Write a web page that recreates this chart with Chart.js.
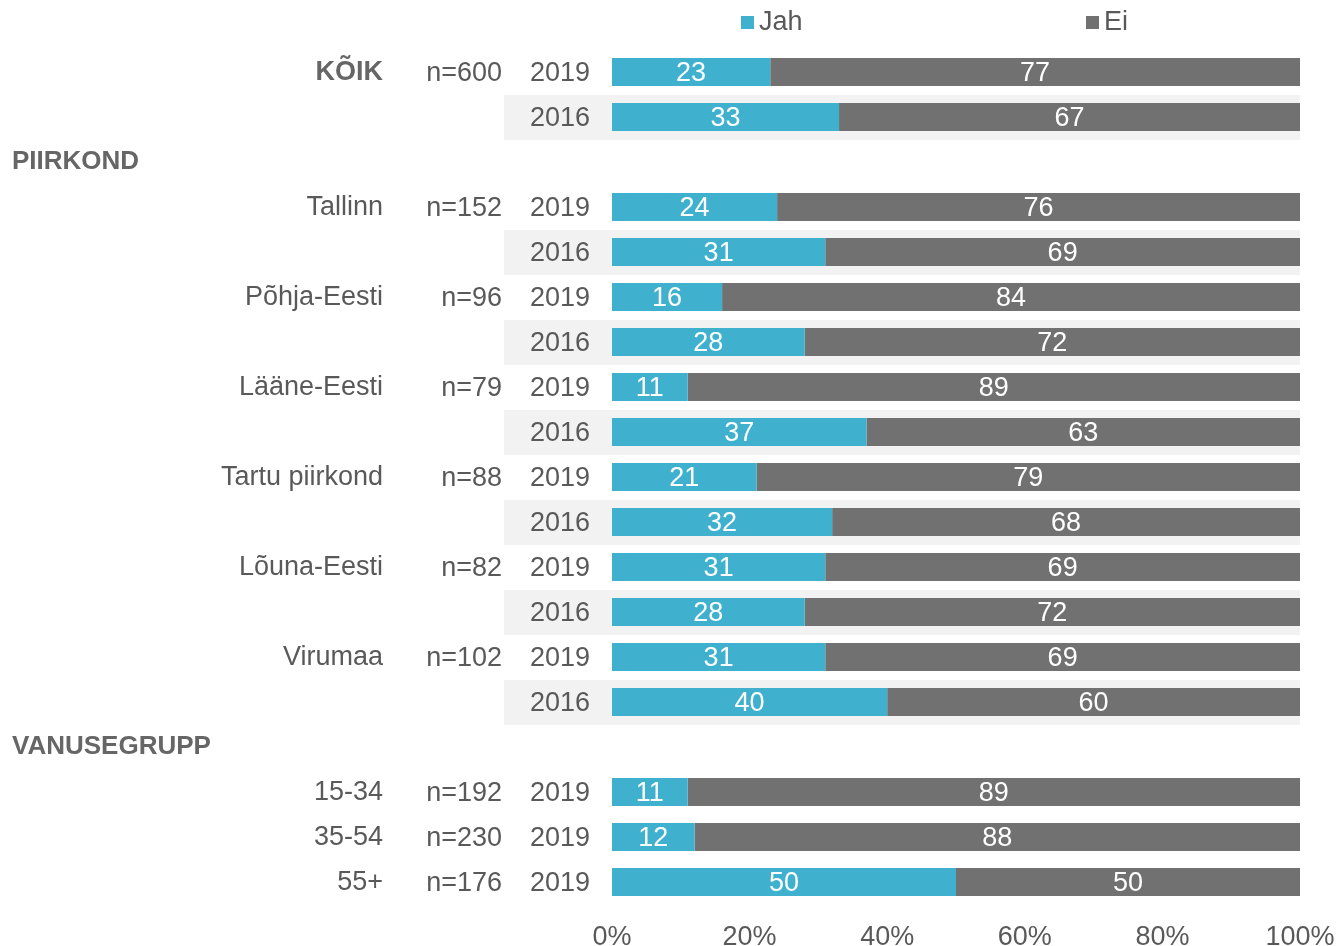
<!DOCTYPE html>
<html>
<head>
<meta charset="utf-8">
<script src="https://cdn.jsdelivr.net/npm/chart.js@4"></script>
<style>
html,body{margin:0;padding:0;background:#fff;}
#wrap{width:1337px;height:946px;}
</style>
</head>
<body>
<div id="wrap"><canvas id="c" width="1337" height="946"></canvas></div>
<script>
const years = ['2019','2016','','2019','2016','2019','2016','2019','2016','2019','2016','2019','2016','2019','2016','','2019','2019','2019'];
const groupLabels = ['KÕIK','','','Tallinn','','Põhja-Eesti','','Lääne-Eesti','','Tartu piirkond','','Lõuna-Eesti','','Virumaa','','','15-34','35-54','55+'];
const nLabels = ['n=600','','','n=152','','n=96','','n=79','','n=88','','n=82','','n=102','','','n=192','n=230','n=176'];
const sectionLabels = ['','','PIIRKOND','','','','','','','','','','','','','VANUSEGRUPP','','',''];
const jah = [23,33,null,24,31,16,28,11,37,21,32,31,28,31,40,null,11,12,50];
const ei  = [77,67,null,76,69,84,72,89,63,79,68,69,72,69,60,null,89,88,50];
const xTicks = [0,20,40,60,80,100];
const seriesNames = ['Jah','Ei'];
const colors = ['#3FB1CE','#717171'];

const FONT = '"Liberation Sans", Arial, sans-serif';
const FS = 27;
const TXT = '#595959';

const customPlugin = {
  id: 'custom',
  beforeDraw(chart){
    const ctx = chart.ctx;
    ctx.save();
    ctx.fillStyle = '#fff';
    ctx.fillRect(0,0,chart.width,chart.height);
    const y = chart.scales.y;
    const area = chart.chartArea;
    ctx.fillStyle = '#F2F2F2';
    years.forEach((yr,i)=>{
      if (yr === '2016') {
        const c = y.getPixelForValue(i);
        ctx.fillRect(504, c-22, area.right-504, 45);
      }
    });
    ctx.restore();
  },
  afterDatasetsDraw(chart){
    const ctx = chart.ctx;
    ctx.save();
    ctx.fillStyle = '#fff';
    ctx.font = FS + 'px ' + FONT;
    ctx.textAlign = 'center';
    ctx.textBaseline = 'middle';
    chart.data.datasets.forEach((ds,di)=>{
      const meta = chart.getDatasetMeta(di);
      meta.data.forEach((el,i)=>{
        const v = ds.data[i];
        if (v === null || v === undefined) return;
        const cx = (el.x + el.base)/2;
        ctx.fillText(String(v), cx, el.y+2);
      });
    });
    ctx.restore();
  },
  afterDraw(chart){
    const ctx = chart.ctx;
    const y = chart.scales.y;
    ctx.save();
    ctx.textBaseline = 'middle';
    years.forEach((yr,i)=>{
      const c = y.getPixelForValue(i);
      if (groupLabels[i]) {
        ctx.textAlign = 'right';
        ctx.fillStyle = (i===0) ? '#666' : TXT;
        ctx.font = (i===0 ? 'bold ' : '') + FS + 'px ' + FONT;
        ctx.fillText(groupLabels[i], 383, c+1);
      }
      if (nLabels[i]) {
        ctx.textAlign = 'right';
        ctx.fillStyle = TXT;
        ctx.font = FS + 'px ' + FONT;
        ctx.fillText(nLabels[i], 502, c+2);
      }
      if (sectionLabels[i]) {
        ctx.textAlign = 'left';
        ctx.fillStyle = '#666';
        ctx.font = 'bold ' + (FS-1) + 'px ' + FONT;
        ctx.fillText(sectionLabels[i], 12, c);
      }
    });
    // legend
    ctx.font = FS + 'px ' + FONT;
    ctx.textAlign = 'left';
    const legendPos = [741, 1086];
    seriesNames.forEach((n,i)=>{
      ctx.fillStyle = colors[i];
      ctx.fillRect(legendPos[i], 16, 13, 13);
      ctx.fillStyle = TXT;
      ctx.fillText(n, legendPos[i]+18, 23);
    });
    ctx.restore();
  }
};

new Chart(document.getElementById('c'), {
  type: 'bar',
  data: {
    labels: years,
    datasets: [
      {label: seriesNames[0], data: jah, backgroundColor: colors[0], categoryPercentage: 1, barPercentage: 28/45},
      {label: seriesNames[1], data: ei, backgroundColor: colors[1], categoryPercentage: 1, barPercentage: 28/45}
    ]
  },
  options: {
    indexAxis: 'y',
    responsive: false,
    animation: false,
    devicePixelRatio: 1,
    layout: {padding: {left: 0, right: 37, top: 49.5, bottom: 0}},
    plugins: {legend: {display: false}, tooltip: {enabled: false}, title: {display: false}},
    scales: {
      x: {
        stacked: true, min: 0, max: 100,
        afterBuildTicks(scale){ scale.ticks = xTicks.map(v=>({value:v})); },
        afterFit(scale){ scale.height = 41.5; scale.paddingRight = 0; scale.paddingLeft = 0; },
        grid: {display: false, drawTicks: false}, border: {display: false},
        ticks: {padding: 17, color: TXT, font: {family: FONT, size: FS}, maxRotation: 0, callback: v => v + '%'}
      },
      y: {
        stacked: true,
        afterFit(scale){ scale.width = 612; scale.paddingTop = 0; scale.paddingBottom = 0; },
        grid: {display: false, drawTicks: false}, border: {display: false},
        ticks: {padding: 22, labelOffset: 2, color: TXT, font: {family: FONT, size: FS}, autoSkip: false}
      }
    }
  },
  plugins: [customPlugin]
});
</script>
</body>
</html>
